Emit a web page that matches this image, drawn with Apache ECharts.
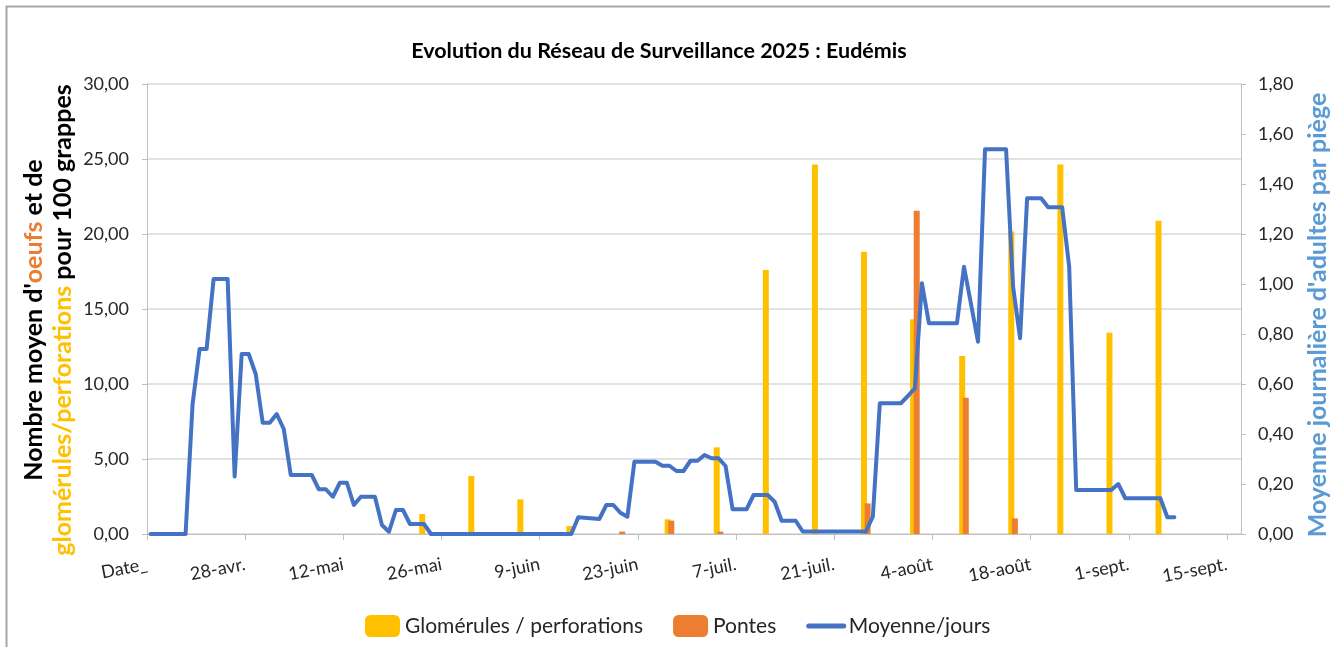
<!DOCTYPE html>
<html><head><meta charset="utf-8">
<script src="https://cdn.jsdelivr.net/npm/echarts@6/dist/echarts.min.js"></script>
<style>html,body{margin:0;padding:0;background:#fff}#c{width:1330px;height:647px}</style>
</head><body><div id="c"></div>
<script>
// Day index counted from 14 April 2025 (first axis tick, labelled "Date_")
const tickLabels = ['Date_', '28-avr.', '12-mai', '26-mai', '9-juin', '23-juin', '7-juil.', '21-juil.', '4-août', '18-août', '1-sept.', '15-sept.'];
const tickDays = [0, 14, 28, 42, 56, 70, 84, 98, 112, 126, 140, 154];

const barDays    = [39, 46, 53, 60, 67, 74, 81, 88, 95, 102, 109, 116, 123, 130, 137, 144];
const glomerules = [1.33, 3.87, 2.31, 0.53, 0, 0.98, 5.78, 17.6, 24.64, 18.82, 14.31, 11.87, 20.16, 24.64, 13.42, 20.89];
const pontes     = [0, 0, 0, 0, 0.16, 0.89, 0.16, 0, 0, 2.04, 21.55, 9.09, 1.04, 0, 0, 0];

const lineDays   = [0, 5, 6, 7, 8, 9, 11, 12, 13, 14, 15, 16, 17, 18, 19, 20, 23, 24, 25, 26, 27, 28, 29, 30, 32, 33, 34, 35, 36, 37, 39, 40, 60, 61, 64, 65, 66, 67, 68, 69, 72, 73, 74, 75, 76, 77, 78, 79, 80, 81, 82, 83, 85, 86, 88, 89, 90, 92, 93, 102, 103, 104, 107, 108, 109, 110, 111, 115, 116, 117, 118, 119, 122, 123, 124, 125, 127, 128, 130, 131, 132, 137, 138, 139, 144, 145, 146];
const lineValues = [0, 0, 0.52, 0.74, 0.74, 1.02, 1.02, 0.23, 0.72, 0.72, 0.64, 0.445, 0.445, 0.48, 0.42, 0.236, 0.236, 0.179, 0.179, 0.149, 0.205, 0.205, 0.116, 0.149, 0.149, 0.036, 0.009, 0.096, 0.096, 0.04, 0.04, 0, 0, 0.067, 0.06, 0.116, 0.116, 0.085, 0.069, 0.289, 0.289, 0.273, 0.273, 0.252, 0.252, 0.293, 0.293, 0.316, 0.303, 0.303, 0.272, 0.099, 0.099, 0.156, 0.156, 0.129, 0.053, 0.053, 0.01, 0.01, 0.069, 0.523, 0.523, 0.552, 0.583, 1.003, 0.843, 0.843, 1.069, 0.92, 0.769, 1.539, 1.539, 0.989, 0.783, 1.343, 1.343, 1.307, 1.307, 1.069, 0.176, 0.176, 0.2, 0.143, 0.143, 0.067, 0.067];

const FONT = 'Lato';
const slot = d => d + 0.5; // each date is drawn in the middle of its day slot
const fmt = v => v.toFixed(2).replace('.', ',');

const chart = echarts.init(document.getElementById('c'));
chart.setOption({
  animation: false,
  backgroundColor: '#fff',
  textStyle: { fontFamily: FONT },
  title: {
    text: 'Evolution du Réseau de Surveillance 2025 : Eudémis',
    left: 654, top: 35, textAlign: 'center',
    textStyle: { fontFamily: FONT, fontSize: 21.5, fontWeight: 'bold', color: '#000' }
  },
  grid: { left: 147, right: 89, top: 84, bottom: 113, containLabel: false },
  legend: {
    left: 360, top: 610,
    itemWidth: 35, itemHeight: 22, itemGap: 30,
    textStyle: { fontFamily: FONT, fontSize: 21, color: '#262626' },
    data: [
      'Glomérules / perforations',
      'Pontes',
      { name: 'Moyenne/jours', itemStyle: { opacity: 0 }, lineStyle: { width: 5, color: '#4472C4' } }
    ]
  },
  xAxis: {
    type: 'value', min: 0, max: 156, interval: 14,
    axisLine: { show: true, lineStyle: { color: '#BFBFBF', width: 1 } },
    axisTick: { show: true, length: 6, customValues: tickDays, lineStyle: { color: '#BFBFBF' } },
    splitLine: { show: false },
    axisLabel: {
      customValues: tickDays,
      rotate: 11, margin: 30, fontSize: 18, color: '#262626', fontFamily: FONT,
      formatter: v => { const i = tickDays.indexOf(v); return i >= 0 ? tickLabels[i] : ''; }
    }
  },
  yAxis: [
    {
      type: 'value', min: 0, max: 30, interval: 5, position: 'left',
      axisLine: { show: true, lineStyle: { color: '#BFBFBF' } },
      axisTick: { show: true, length: 5, lineStyle: { color: '#BFBFBF' } },
      splitLine: { show: true, lineStyle: { color: '#D9D9D9', width: 1.5 } },
      axisLabel: { formatter: fmt, fontSize: 18, color: '#262626', margin: 18, fontFamily: FONT }
    },
    {
      type: 'value', min: 0, max: 1.8, interval: 0.2, position: 'right',
      axisLine: { show: true, lineStyle: { color: '#BFBFBF' } },
      axisTick: { show: true, length: 5, lineStyle: { color: '#BFBFBF' } },
      splitLine: { show: false },
      axisLabel: { formatter: fmt, fontSize: 18, color: '#262626', margin: 17, fontFamily: FONT }
    }
  ],
  series: [
    {
      name: 'Glomérules / perforations', type: 'bar', yAxisIndex: 0,
      barWidth: 6, barGap: '-40%',
      itemStyle: { color: '#FFC000' },
      data: barDays.map((d, i) => [slot(d), glomerules[i]])
    },
    {
      name: 'Pontes', type: 'bar', yAxisIndex: 0,
      barWidth: 6, barGap: '-40%',
      itemStyle: { color: '#ED7D31' },
      data: barDays.map((d, i) => [slot(d), pontes[i]])
    },
    {
      name: 'Moyenne/jours', type: 'line', yAxisIndex: 1, z: 5,
      showSymbol: false, symbol: 'none',
      lineStyle: { color: '#4472C4', width: 4, join: 'round', cap: 'round' },
      itemStyle: { color: '#4472C4' },
      data: lineDays.map((d, i) => [slot(d), lineValues[i]])
    }
  ],
  graphic: [
    { type: 'line', shape: { x1: 6, y1: 6.5, x2: 1330, y2: 6.5 }, style: { stroke: '#A6A6A6', lineWidth: 2 } },
    { type: 'line', shape: { x1: 6.5, y1: 6, x2: 6.5, y2: 647 }, style: { stroke: '#A6A6A6', lineWidth: 2 } },
    {
      type: 'text', x: 48, y: 320, rotation: Math.PI / 2,
      style: {
        text: "{k|Nombre moyen d'}{o|oeufs}{k| et de}\n{y|glomérules/perforations}{k| pour 100 grappes}",
        align: 'center', verticalAlign: 'middle',
        rich: {
          k: { fontFamily: FONT, fontSize: 25, fontWeight: 'bold', fill: '#000', lineHeight: 29 },
          o: { fontFamily: FONT, fontSize: 25, fontWeight: 'bold', fill: '#ED7D31', lineHeight: 29 },
          y: { fontFamily: FONT, fontSize: 25, fontWeight: 'bold', fill: '#FFC000', lineHeight: 29 }
        }
      }
    },
    {
      type: 'text', x: 1318, y: 315, rotation: Math.PI / 2,
      style: {
        text: "Moyenne journalière d'adultes par piège",
        align: 'center', verticalAlign: 'middle',
        font: 'bold 25px Lato', fill: '#5B9BD5'
      }
    }
  ]
});
</script>
</body></html>
